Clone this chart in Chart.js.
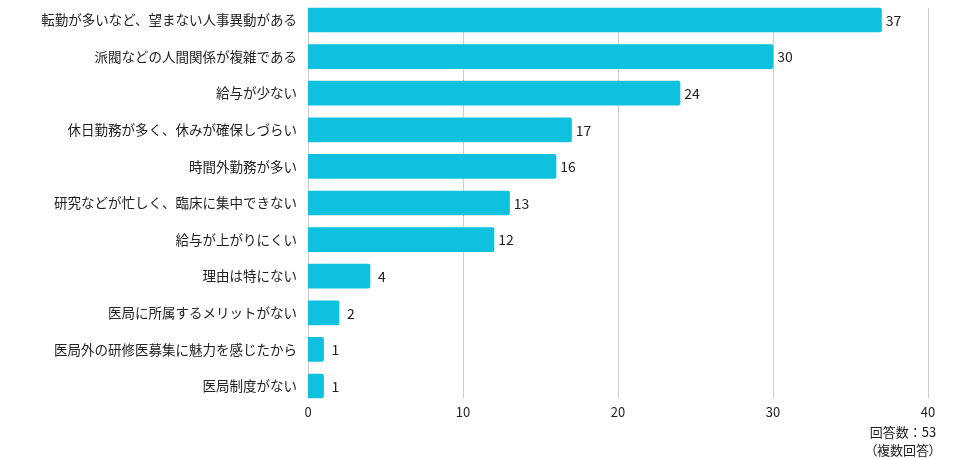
<!DOCTYPE html>
<html>
<head>
<meta charset="utf-8">
<script src="https://cdn.jsdelivr.net/npm/chart.js@4.4.1/dist/chart.umd.min.js"></script>
<style>
  html, body { margin: 0; padding: 0; background: #fff; }
  #wrap { position: relative; width: 976px; height: 459px; }
  #note { position: absolute; left: 843px; width: 120px; top: 423px; text-align: center;
          font-family: 'Noto Sans CJK JP', 'Noto Sans', sans-serif; font-size: 13px; line-height: 18px; color: #222; }
  #note .p { font-feature-settings: "palt"; }
</style>
</head>
<body>
<div id="wrap">
  <canvas id="c" width="976" height="459"></canvas>
  <div id="note"><div>回答数：53</div><div class="p">（複数回答）</div></div>
</div>
<script>
const categories = [
  '転勤が多いなど、望まない人事異動がある',
  '派閥などの人間関係が複雑である',
  '給与が少ない',
  '休日勤務が多く、休みが確保しづらい',
  '時間外勤務が多い',
  '研究などが忙しく、臨床に集中できない',
  '給与が上がりにくい',
  '理由は特にない',
  '医局に所属するメリットがない',
  '医局外の研修医募集に魅力を感じたから',
  '医局制度がない'
];
const counts = [37, 30, 24, 17, 16, 13, 12, 4, 2, 1, 1];
const xTicks = [0, 10, 20, 30, 40];

const FONT = "'Noto Sans CJK JP', 'Noto Sans', sans-serif";
const BAR_COLOR = '#0ec1df';
const GRID_COLOR = '#cccccc';
const TEXT_COLOR = '#222222';

const gridPlugin = {
  id: 'customGrid',
  beforeDatasetsDraw(chart) {
    const ctx = chart.ctx, xs = chart.scales.x;
    const bars = chart.getDatasetMeta(0).data;
    const top = bars[0].y - bars[0].height / 2;
    const last = bars[bars.length - 1];
    const bottom = last.y + last.height / 2;
    ctx.save();
    ctx.strokeStyle = GRID_COLOR;
    ctx.lineWidth = 1;
    xTicks.forEach(v => {
      const x = Math.round(xs.getPixelForValue(v)) + 0.5;
      ctx.beginPath();
      ctx.moveTo(x, Math.round(top));
      ctx.lineTo(x, Math.round(bottom));
      ctx.stroke();
    });
    ctx.restore();
  }
};

const labelPlugin = {
  id: 'valueLabels',
  afterDatasetsDraw(chart) {
    const ctx = chart.ctx;
    const meta = chart.getDatasetMeta(0);
    ctx.save();
    ctx.font = '14px ' + FONT;
    ctx.fillStyle = TEXT_COLOR;
    ctx.textAlign = 'center';
    ctx.textBaseline = 'middle';
    meta.data.forEach((el, i) => {
      ctx.fillText(String(counts[i]), el.x + 12, el.y + 0.5);
    });
    ctx.restore();
  }
};

new Chart(document.getElementById('c'), {
  type: 'bar',
  data: {
    labels: categories,
    datasets: [{
      data: counts,
      backgroundColor: BAR_COLOR,
      borderRadius: 2,
      borderSkipped: 'start',
      barThickness: 24,
      categoryPercentage: 1
    }]
  },
  options: {
    indexAxis: 'y',
    responsive: false,
    animation: false,
    devicePixelRatio: 1,
    layout: { padding: { top: 1.7, right: 48, left: 0, bottom: 0 } },
    plugins: { legend: { display: false }, tooltip: { enabled: false } },
    scales: {
      x: {
        min: 0, max: 40,
        afterBuildTicks(scale) { scale.ticks = xTicks.map(v => ({ value: v })); },
        afterFit(scale) { scale.height = 54.7; scale.paddingLeft = 0; scale.paddingRight = 0; },
        grid: { display: false, drawTicks: false },
        border: { display: false },
        ticks: { color: TEXT_COLOR, font: { family: FONT, size: 13 }, padding: 0 }
      },
      y: {
        afterFit(scale) { scale.width = 308; scale.paddingTop = 0; scale.paddingBottom = 0; },
        grid: { display: false, drawTicks: false },
        border: { display: false },
        ticks: { color: TEXT_COLOR, font: { family: FONT, size: 13.5 }, padding: 11, autoSkip: false }
      }
    }
  },
  plugins: [gridPlugin, labelPlugin]
});
</script>
</body>
</html>
